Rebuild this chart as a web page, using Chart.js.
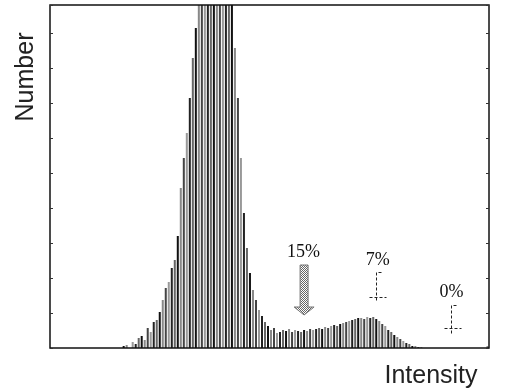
<!DOCTYPE html>
<html>
<head>
<meta charset="utf-8">
<script src="https://cdn.jsdelivr.net/npm/chart.js@4/dist/chart.umd.min.js"></script>
<style>
  html, body { margin: 0; padding: 0; background: #fff; }
  #wrap { width: 505px; height: 391px; }
</style>
</head>
<body>
<div id="wrap"><canvas id="histo" width="505" height="391"></canvas></div>
<script>
// histogram counts per intensity bin (146 bins)
const counts = [
  0, 0, 0, 0, 0, 0, 0, 0, 0, 0,
  0, 0, 0, 0, 0, 0, 0, 0, 0, 0,
  0, 0, 0, 0, 2, 3, 0, 6, 4, 10,
  12, 8, 20, 16, 26, 28, 36, 48, 60, 66,
  80, 88, 112, 160, 190, 215, 250, 290, 320, 360,
  390, 410, 400, 420, 405, 395, 410, 400, 390, 380,
  370, 300, 250, 190, 135, 100, 75, 58, 48, 38,
  32, 26, 22, 18, 20, 15, 16, 18, 17, 19,
  16, 18, 17, 16, 18, 17, 19, 18, 19, 20,
  19, 21, 20, 22, 23, 22, 24, 25, 26, 27,
  28, 29, 30, 30, 29, 31, 30, 31, 29, 27,
  24, 22, 18, 16, 13, 11, 9, 7, 5, 4,
  2, 2, 1, 1, 0, 0, 0, 0, 0, 0,
  0, 0, 0, 0, 0, 0, 0, 0, 0, 0,
  0, 0, 0, 0, 0, 2
];
const bins = counts.map((_, i) => i);
const yMax = 343;
const yStep = 35;

// annotation labels, anchored at [bin, count]
const labels = [
  { text: "15%", at: [83.8, 91] },
  { text: "7%", at: [108.5, 83] },
  { text: "0%", at: [133, 51] },
];
// arrow under 15%: bin, top count, bottom count
const arrow = { bin: 84, top: 83, bottom: 33 };
// step markers under 7% and 0%: bin, top count, bottom count
const markers = [
  { bin: 107.8, top: 76, bottom: 51 },
  { bin: 132.8, top: 43, bottom: 20 },
];

const shades = ["#111", "#888", "#444", "#999", "#222", "#666"];

function stipple(ctx) {
  const c = document.createElement("canvas");
  c.width = 2; c.height = 2;
  const g = c.getContext("2d");
  g.fillStyle = "#fff"; g.fillRect(0, 0, 2, 2);
  g.fillStyle = "#666"; g.fillRect(0, 0, 1, 1); g.fillRect(1, 1, 1, 1);
  return ctx.createPattern(c, "repeat");
}

const decor = {
  id: "decor",
  afterDraw(chart) {
    const { ctx, chartArea: a } = chart;
    const xs = chart.scales.x, ys = chart.scales.y;
    const px = b => xs.getPixelForValue(b);
    const py = v => ys.getPixelForValue(v);
    ctx.save();

    // frame
    ctx.strokeStyle = "#111";
    ctx.lineWidth = 1.5;
    ctx.strokeRect(a.left, a.top, a.right - a.left, a.bottom - a.top);

    // inward ticks on both sides
    ctx.lineWidth = 1;
    ctx.strokeStyle = "#333";
    ys.ticks.forEach((t, k) => {
      const y = Math.round(ys.getPixelForTick(k)) + 0.5;
      ctx.beginPath();
      ctx.moveTo(a.left, y); ctx.lineTo(a.left + 3, y);
      ctx.moveTo(a.right, y); ctx.lineTo(a.right - 3, y);
      ctx.stroke();
    });

    // axis titles
    ctx.fillStyle = "#222";
    ctx.font = "25px 'Liberation Sans', Arial, sans-serif";
    ctx.textAlign = "center";
    ctx.textBaseline = "alphabetic";
    ctx.fillText("Intensity", 431, 383);
    ctx.save();
    ctx.translate(33, 77);
    ctx.rotate(-Math.PI / 2);
    ctx.fillText("Number", 0, 0);
    ctx.restore();

    // percentage labels
    ctx.font = "18px 'Liberation Serif', 'Times New Roman', serif";
    ctx.fillStyle = "#111";
    labels.forEach(l => ctx.fillText(l.text, px(l.at[0]), py(l.at[1])));

    // stippled arrow
    const cx = px(arrow.bin), top = py(arrow.top), tip = py(arrow.bottom);
    const headY = tip - 8;
    ctx.beginPath();
    ctx.moveTo(cx - 4, top);
    ctx.lineTo(cx + 4, top);
    ctx.lineTo(cx + 4, headY);
    ctx.lineTo(cx + 10, headY);
    ctx.lineTo(cx, tip);
    ctx.lineTo(cx - 10, headY);
    ctx.lineTo(cx - 4, headY);
    ctx.closePath();
    ctx.fillStyle = stipple(ctx);
    ctx.fill();
    ctx.strokeStyle = "#777";
    ctx.lineWidth = 1;
    ctx.stroke();

    // step markers
    ctx.strokeStyle = "#222";
    ctx.setLineDash([3, 2]);
    markers.forEach(m => {
      const x = Math.round(px(m.bin)) + 0.5;
      const t = Math.round(py(m.top)) + 0.5, b = Math.round(py(m.bottom)) + 0.5;
      ctx.beginPath();
      ctx.moveTo(x + 5, t); ctx.lineTo(x, t); ctx.lineTo(x, b + 5);
      ctx.moveTo(x - 7, b); ctx.lineTo(x + 10, b);
      ctx.stroke();
    });
    ctx.restore();
  }
};

new Chart(document.getElementById("histo"), {
  type: "bar",
  data: {
    labels: bins,
    datasets: [{
      data: counts,
      backgroundColor: ctx => shades[ctx.dataIndex % shades.length],
      borderWidth: 0,
      barPercentage: 1,
      categoryPercentage: 0.67,
    }]
  },
  options: {
    responsive: false,
    animation: false,
    layout: { padding: { left: 50, right: 16, top: 5, bottom: 43 } },
    plugins: { legend: { display: false }, tooltip: { enabled: false } },
    scales: {
      x: { display: false },
      y: { display: false, min: 0, max: yMax, ticks: { stepSize: yStep } }
    }
  },
  plugins: [decor]
});
</script>
</body>
</html>
